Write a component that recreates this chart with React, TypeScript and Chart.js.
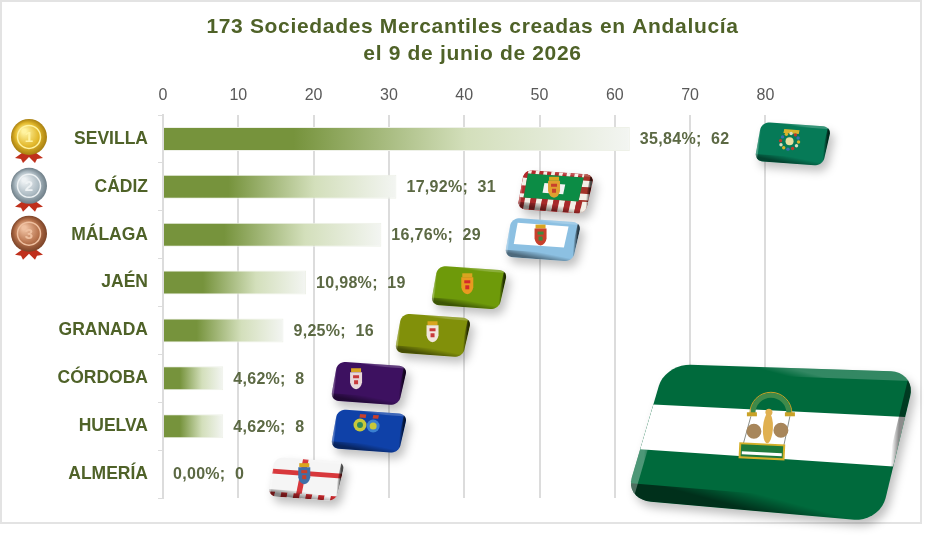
import React, { useEffect, useRef } from "react";
import { Chart, registerables } from "chart.js";

Chart.register(...registerables);

const titleLines = ["173 Sociedades Mercantiles creadas en Andalucía", "el 9 de junio de 2026"];
const provinces = ["SEVILLA", "CÁDIZ", "MÁLAGA", "JAÉN", "GRANADA", "CÓRDOBA", "HUELVA", "ALMERÍA"];
const companies = [62, 31, 29, 19, 16, 8, 8, 0];
const percents = [35.84, 17.92, 16.76, 10.98, 9.25, 4.62, 4.62, 0.0];
const flagAnchors = [83.6, 52.1, 50.4, 40.6, 35.8, 27.3, 27.3, 19.0];
const medalNames = ["1", "2", "3"];
const medalColors = [
  ["#fff3a0", "#e3b92c", "#a87f10"],
  ["#eef2f4", "#aebcc4", "#6f7f88"],
  ["#efc0a0", "#b8744e", "#7c4327"],
];

const TEXT = "#4f6228";
const LABEL = "#5c6944";
const SANS = "'Liberation Sans', Arial, sans-serif";

type P = [number, number];
type Quad = [P, P, P, P];
const at = (q: Quad, u: number, v: number): P => [
  (1 - v) * ((1 - u) * q[0][0] + u * q[1][0]) + v * ((1 - u) * q[3][0] + u * q[2][0]),
  (1 - v) * ((1 - u) * q[0][1] + u * q[1][1]) + v * ((1 - u) * q[3][1] + u * q[2][1]),
];
function rounded(ctx: CanvasRenderingContext2D, q: Quad, ru: number, rv: number) {
  const corners: [number, number, number][] = [
    [1 - ru, rv, -90],
    [1 - ru, 1 - rv, 0],
    [ru, 1 - rv, 90],
    [ru, rv, 180],
  ];
  ctx.beginPath();
  corners.forEach(([cu, cv, a0]) => {
    for (let a = 0; a <= 90; a += 10) {
      const t = ((a0 + a) * Math.PI) / 180;
      const p = at(q, cu + ru * Math.cos(t), cv + rv * Math.sin(t));
      ctx.lineTo(p[0], p[1]);
    }
  });
  ctx.closePath();
}
function band(ctx: CanvasRenderingContext2D, q: Quad, u0: number, v0: number, u1: number, v1: number, c: string | CanvasGradient) {
  const pts = [at(q, u0, v0), at(q, u1, v0), at(q, u1, v1), at(q, u0, v1)];
  ctx.beginPath();
  pts.forEach((p) => ctx.lineTo(p[0], p[1]));
  ctx.closePath();
  ctx.fillStyle = c;
  ctx.fill();
}
function dot(ctx: CanvasRenderingContext2D, q: Quad, u: number, v: number, r: number, c: string) {
  const p = at(q, u, v);
  ctx.beginPath();
  ctx.arc(p[0], p[1], r, 0, Math.PI * 2);
  ctx.fillStyle = c;
  ctx.fill();
}
function drawFlag(
  ctx: CanvasRenderingContext2D,
  q: Quad,
  base: string,
  paint: () => void,
  ru = 0.12,
  rv = 0.2,
  vb = 0.18,
  ub = 0.05,
  bottomAlpha = 0.45,
  rightAlpha = 0.7
) {
  ctx.save();
  ctx.shadowColor = "rgba(0,0,0,0.25)";
  ctx.shadowBlur = 10;
  ctx.shadowOffsetX = 4;
  ctx.shadowOffsetY = 6;
  rounded(ctx, q, ru, rv);
  ctx.fillStyle = base;
  ctx.fill();
  ctx.restore();
  ctx.save();
  rounded(ctx, q, ru, rv);
  ctx.clip();
  paint();
  const grad = (a: P, b: P, c0: string, c1: string) => {
    const g = ctx.createLinearGradient(a[0], a[1], b[0], b[1]);
    g.addColorStop(0, c0);
    g.addColorStop(1, c1);
    return g;
  };
  band(ctx, q, 0, 1 - vb, 1, 1, grad(at(q, 0.5, 1 - vb), at(q, 0.5, 1), "rgba(0,0,0,0)", `rgba(0,0,0,${bottomAlpha})`));
  band(ctx, q, 1 - ub, 0, 1, 1, grad(at(q, 1 - ub, 0.5), at(q, 1, 0.5), "rgba(0,0,0,0)", `rgba(0,0,0,${rightAlpha})`));
  band(ctx, q, 0, 0, 0.03, 1, grad(at(q, 0, 0.5), at(q, 0.03, 0.5), "rgba(255,255,255,0.3)", "rgba(255,255,255,0)"));
  band(ctx, q, 0, 0, 1, 0.06, grad(at(q, 0.5, 0), at(q, 0.5, 0.06), "rgba(255,255,255,0.2)", "rgba(255,255,255,0)"));
  ctx.restore();
}
function crest(ctx: CanvasRenderingContext2D, q: Quad, u: number, v: number, body: string, trim: string) {
  const [x, y] = at(q, u, v);
  ctx.fillStyle = "#d9a520";
  ctx.fillRect(x - 5, y - 11, 10, 4);
  ctx.fillStyle = body;
  ctx.beginPath();
  ctx.moveTo(x - 6, y - 7);
  ctx.lineTo(x + 6, y - 7);
  ctx.lineTo(x + 6, y + 3);
  ctx.quadraticCurveTo(x + 5, y + 9, x, y + 10);
  ctx.quadraticCurveTo(x - 5, y + 9, x - 6, y + 3);
  ctx.closePath();
  ctx.fill();
  ctx.fillStyle = trim;
  ctx.fillRect(x - 3, y - 4, 6, 3);
  ctx.fillRect(x - 2, y + 1, 4, 4);
}
function stripeRow(ctx: CanvasRenderingContext2D, q: Quad, v0: number, v1: number, n: number, a: string, b: string) {
  for (let i = 0; i < n; i++) band(ctx, q, i / n, v0, (i + 1) / n, v1, i % 2 ? a : b);
}
function stripeCol(ctx: CanvasRenderingContext2D, q: Quad, u0: number, u1: number, n: number, a: string, b: string) {
  for (let i = 0; i < n; i++) band(ctx, q, u0, i / n, u1, (i + 1) / n, i % 2 ? a : b);
}

const flagPainters: { base: string; paint: (c: CanvasRenderingContext2D, q: Quad) => void }[] = [
  {
    base: "#067a57",
    paint: (c, q) => {
      band(c, q, 0.34, 0.14, 0.56, 0.24, "#d8b42c");
      for (let i = 0; i < 12; i++) {
        const t = (i / 12) * Math.PI * 2;
        dot(c, q, 0.45 + 0.13 * Math.cos(t), 0.44 + 0.2 * Math.sin(t), 1.7, ["#d8b42c", "#d8e0c0", "#c0392b", "#3a6fb0"][i % 4]);
      }
      dot(c, q, 0.45, 0.44, 4, "#e8dfa0");
    },
  },
  {
    base: "#b32a2c",
    paint: (c, q) => {
      stripeRow(c, q, 0, 0.09, 18, "#f4efe6", "#b32a2c");
      stripeCol(c, q, 0, 0.06, 5, "#f4efe6", "#b32a2c");
      stripeCol(c, q, 0.86, 1, 6, "#f4efe6", "#a33428");
      stripeRow(c, q, 0.7, 1, 12, "#f4efe6", "#a82a2a");
      band(c, q, 0.06, 0.09, 0.86, 0.7, "#0c8c45");
      band(c, q, 0.32, 0.3, 0.62, 0.55, "#f3f3f3");
      crest(c, q, 0.47, 0.4, "#e0a030", "#c8402c");
    },
  },
  {
    base: "#8cc0e2",
    paint: (c, q) => {
      band(c, q, 0.1, 0.12, 0.83, 0.66, "#ffffff");
      crest(c, q, 0.46, 0.4, "#c8402c", "#3f8a3f");
    },
  },
  { base: "#6e9a0a", paint: (c, q) => crest(c, q, 0.47, 0.42, "#e89a20", "#d42a2a") },
  { base: "#81900a", paint: (c, q) => crest(c, q, 0.49, 0.42, "#f1e6dc", "#c83a3a") },
  { base: "#3d1160", paint: (c, q) => crest(c, q, 0.31, 0.42, "#e8d8d8", "#c83a3a") },
  {
    base: "#0f41a8",
    paint: (c, q) => {
      dot(c, q, 0.36, 0.36, 6.5, "#c8c83a");
      dot(c, q, 0.55, 0.36, 6.5, "#3a7fd0");
      dot(c, q, 0.55, 0.36, 3.5, "#c8c83a");
      dot(c, q, 0.36, 0.36, 3, "#2f8a5a");
      band(c, q, 0.33, 0.08, 0.42, 0.17, "#c8402c");
      band(c, q, 0.52, 0.08, 0.6, 0.17, "#c8402c");
    },
  },
  {
    base: "#f5f5f5",
    paint: (c, q) => {
      band(c, q, 0, 0.3, 1, 0.42, "#d8383c");
      band(c, q, 0.4, 0, 0.48, 1, "#d8383c");
      stripeRow(c, q, 0.88, 1, 11, "#f5f5f5", "#c8282c");
      crest(c, q, 0.46, 0.38, "#3f6fa8", "#c8402c");
    },
  },
];

const rosette = (c: CanvasRenderingContext2D, x: number, y: number) => {
  c.fillStyle = "#c0301c";
  c.beginPath();
  c.moveTo(x - 3, y + 13);
  c.lineTo(x - 14, y + 21);
  c.lineTo(x - 8, y + 22);
  c.lineTo(x - 6, y + 26);
  c.lineTo(x, y + 20);
  c.lineTo(x + 6, y + 26);
  c.lineTo(x + 8, y + 22);
  c.lineTo(x + 14, y + 21);
  c.lineTo(x + 3, y + 13);
  c.closePath();
  c.fill();
};

const decorPlugin = {
  id: "decor",
  beforeDraw(chart: any) {
    const c = chart.ctx as CanvasRenderingContext2D;
    c.save();
    c.fillStyle = "#ffffff";
    c.fillRect(0, 0, chart.width, chart.height);
    c.strokeStyle = "#e3e3e3";
    c.lineWidth = 2;
    c.strokeRect(1, 1, 920, 522);
    c.restore();
    const block = chart.titleBlock;
    if (block && !block.__spaced) {
      const original = block.draw.bind(block);
      block.draw = (...args: any[]) => {
        (c as any).letterSpacing = "0.67px";
        original(...args);
        (c as any).letterSpacing = "0px";
      };
      block.__spaced = true;
    }
  },
  afterDraw(chart: any) {
    const c = chart.ctx as CanvasRenderingContext2D;
    const xs = chart.scales.x;
    const ys = chart.scales.y;
    const meta = chart.getDatasetMeta(0);
    c.save();
    (c as any).letterSpacing = "0.3px";
    c.font = `bold 16px ${SANS}`;
    c.fillStyle = LABEL;
    c.textAlign = "left";
    c.textBaseline = "middle";
    companies.forEach((v, i) => {
      const txt = `${percents[i].toFixed(2).replace(".", ",")}%;  ${v}`;
      c.fillText(txt, meta.data[i].x + 10, ys.getPixelForValue(i) + 1);
    });
    (c as any).letterSpacing = "0px";

    flagAnchors.forEach((a, i) => {
      const cx = xs.getPixelForValue(a);
      const cy = ys.getPixelForValue(i) + 5;
      const q: Quad = [
        [cx - 31, cy - 22],
        [cx + 39, cy - 17],
        [cx + 30, cy + 22],
        [cx - 38, cy + 17],
      ];
      const f = flagPainters[i];
      drawFlag(c, q, f.base, () => f.paint(c, q));
    });

    const big: Quad = [
      [xs.getPixelForValue(66.7), ys.getPixelForValue(4.7)],
      [xs.getPixelForValue(100), ys.getPixelForValue(4.87)],
      [xs.getPixelForValue(95.2), ys.getPixelForValue(8)],
      [xs.getPixelForValue(61.4), ys.getPixelForValue(7.53)],
    ];
    drawFlag(
      c,
      big,
      "#006a3c",
      () => {
        band(c, big, 0, 0.3, 1, 0.63, "#ffffff");
        const [ax, ay] = at(big, 0.47, 0.32);
        c.strokeStyle = "#3f8a4a";
        c.lineWidth = 5;
        c.beginPath();
        c.arc(ax, ay, 18, Math.PI, 0);
        c.stroke();
        c.strokeStyle = "#c9a227";
        c.lineWidth = 1;
        c.beginPath();
        c.arc(ax, ay, 21, Math.PI, 0);
        c.stroke();
        c.fillStyle = "#c9a227";
        c.fillRect(ax - 24, ay - 1, 10, 4);
        c.fillRect(ax + 14, ay - 1, 10, 4);
        c.strokeStyle = "#8a8f8a";
        c.beginPath();
        c.moveTo(ax - 20, ay + 3);
        c.lineTo(ax - 28, ay + 32);
        c.moveTo(ax + 19, ay + 3);
        c.lineTo(ax + 13, ay + 32);
        c.stroke();
        c.fillStyle = "#a8865a";
        c.beginPath();
        c.arc(ax - 17, ay + 18, 7.5, 0, Math.PI * 2);
        c.arc(ax + 10, ay + 17, 7.5, 0, Math.PI * 2);
        c.fill();
        c.fillStyle = "#e0b050";
        c.beginPath();
        c.ellipse(ax - 3, ay + 15, 5, 15, 0.05, 0, Math.PI * 2);
        c.fill();
        c.beginPath();
        c.arc(ax - 2, ay - 1, 3.5, 0, Math.PI * 2);
        c.fill();
        c.save();
        c.translate(ax - 9, ay + 38);
        c.rotate(0.05);
        c.fillStyle = "#1f7a3c";
        c.fillRect(-22, -7, 44, 14);
        c.fillStyle = "#ffffff";
        c.fillRect(-20, 1, 40, 3);
        c.strokeStyle = "#d4b02a";
        c.lineWidth = 2;
        c.strokeRect(-22, -7, 44, 14);
        c.restore();
      },
      0.1,
      0.16,
      0.12,
      0.025,
      0.55,
      0.45
    );

    medalNames.forEach((name, i) => {
      const x = 29;
      const y = ys.getPixelForValue(i) - (i === 0 ? 2 : 1);
      const [hi, mid, lo] = medalColors[i];
      rosette(c, x, y);
      const g = c.createRadialGradient(x - 5, y - 6, 2, x, y, 18);
      g.addColorStop(0, hi);
      g.addColorStop(0.6, mid);
      g.addColorStop(1, lo);
      c.fillStyle = g;
      c.beginPath();
      c.arc(x, y, 18, 0, Math.PI * 2);
      c.fill();
      c.strokeStyle = hi;
      c.lineWidth = 1.5;
      c.beginPath();
      c.arc(x, y, 11.5, 0, Math.PI * 2);
      c.stroke();
      c.font = `bold 15px ${SANS}`;
      c.fillStyle = hi;
      c.textAlign = "center";
      c.textBaseline = "middle";
      c.fillText(name, x, y + 1);
    });
    c.restore();
  },
};

export default function App() {
  const ref = useRef<HTMLCanvasElement>(null);
  useEffect(() => {
    const chart = new Chart(ref.current as HTMLCanvasElement, {
      type: "bar",
      plugins: [decorPlugin],
      data: {
        labels: provinces,
        datasets: [
          {
            data: companies,
            barPercentage: 0.5,
            categoryPercentage: 1,
            borderWidth: 1,
            borderColor: "#eef1e8",
            backgroundColor: (context: any) => {
              const { chart: ch, raw } = context;
              const xs = ch.scales.x;
              const fallback = "#76933c";
              if (!xs || typeof raw !== "number") return fallback;
              const x0 = xs.getPixelForValue(0);
              const xe = xs.getPixelForValue(raw);
              if (!Number.isFinite(x0) || !Number.isFinite(xe)) return fallback;
              const x1 = Math.max(x0 + 1, xe);
              const g = ch.ctx.createLinearGradient(x0, 0, x1, 0);
              g.addColorStop(0, "#76933c");
              g.addColorStop(0.28, "#76933c");
              g.addColorStop(0.65, "#d3dfbb");
              g.addColorStop(1, "#f3f5f2");
              return g;
            },
          },
        ],
      },
      options: {
        indexAxis: "y",
        responsive: false,
        animation: false,
        layout: { padding: { right: 0, left: 0, top: 0, bottom: 53 } },
        plugins: {
          legend: { display: false },
          tooltip: { enabled: false },
          title: {
            display: true,
            text: titleLines,
            color: TEXT,
            font: { family: SANS, size: 21, weight: "bold", lineHeight: 1.28 },
            padding: { top: 14, bottom: 0 },
          },
        },
        scales: {
          x: {
            position: "top",
            min: 0,
            max: 103.85,
            afterBuildTicks: (s: any) => {
              s.ticks = s.ticks.filter((t: any) => t.value <= 80);
            },
            ticks: { stepSize: 10, color: "#595959", padding: 10, font: { family: SANS, size: 16 } },
            grid: { color: "#dcdcdc", lineWidth: 2, drawTicks: false },
            border: { display: false },
            afterFit: (s: any) => {
              s.height = 47.24;
            },
          },
          y: {
            ticks: { color: TEXT, padding: 10, autoSkip: false, font: { family: SANS, size: 17.5, weight: "bold" } },
            grid: { drawOnChartArea: false, color: "#dcdcdc", tickLength: 5 },
            border: { color: "#dcdcdc", width: 2 },
            afterFit: (s: any) => {
              s.width = 163;
            },
          },
        },
      },
    } as any);
    return () => chart.destroy();
  }, []);
  return (
    <div style={{ position: "absolute", left: 0, top: 0, width: 945, height: 551 }}>
      <canvas ref={ref} width={945} height={551} style={{ display: "block" }} />
    </div>
  );
}
